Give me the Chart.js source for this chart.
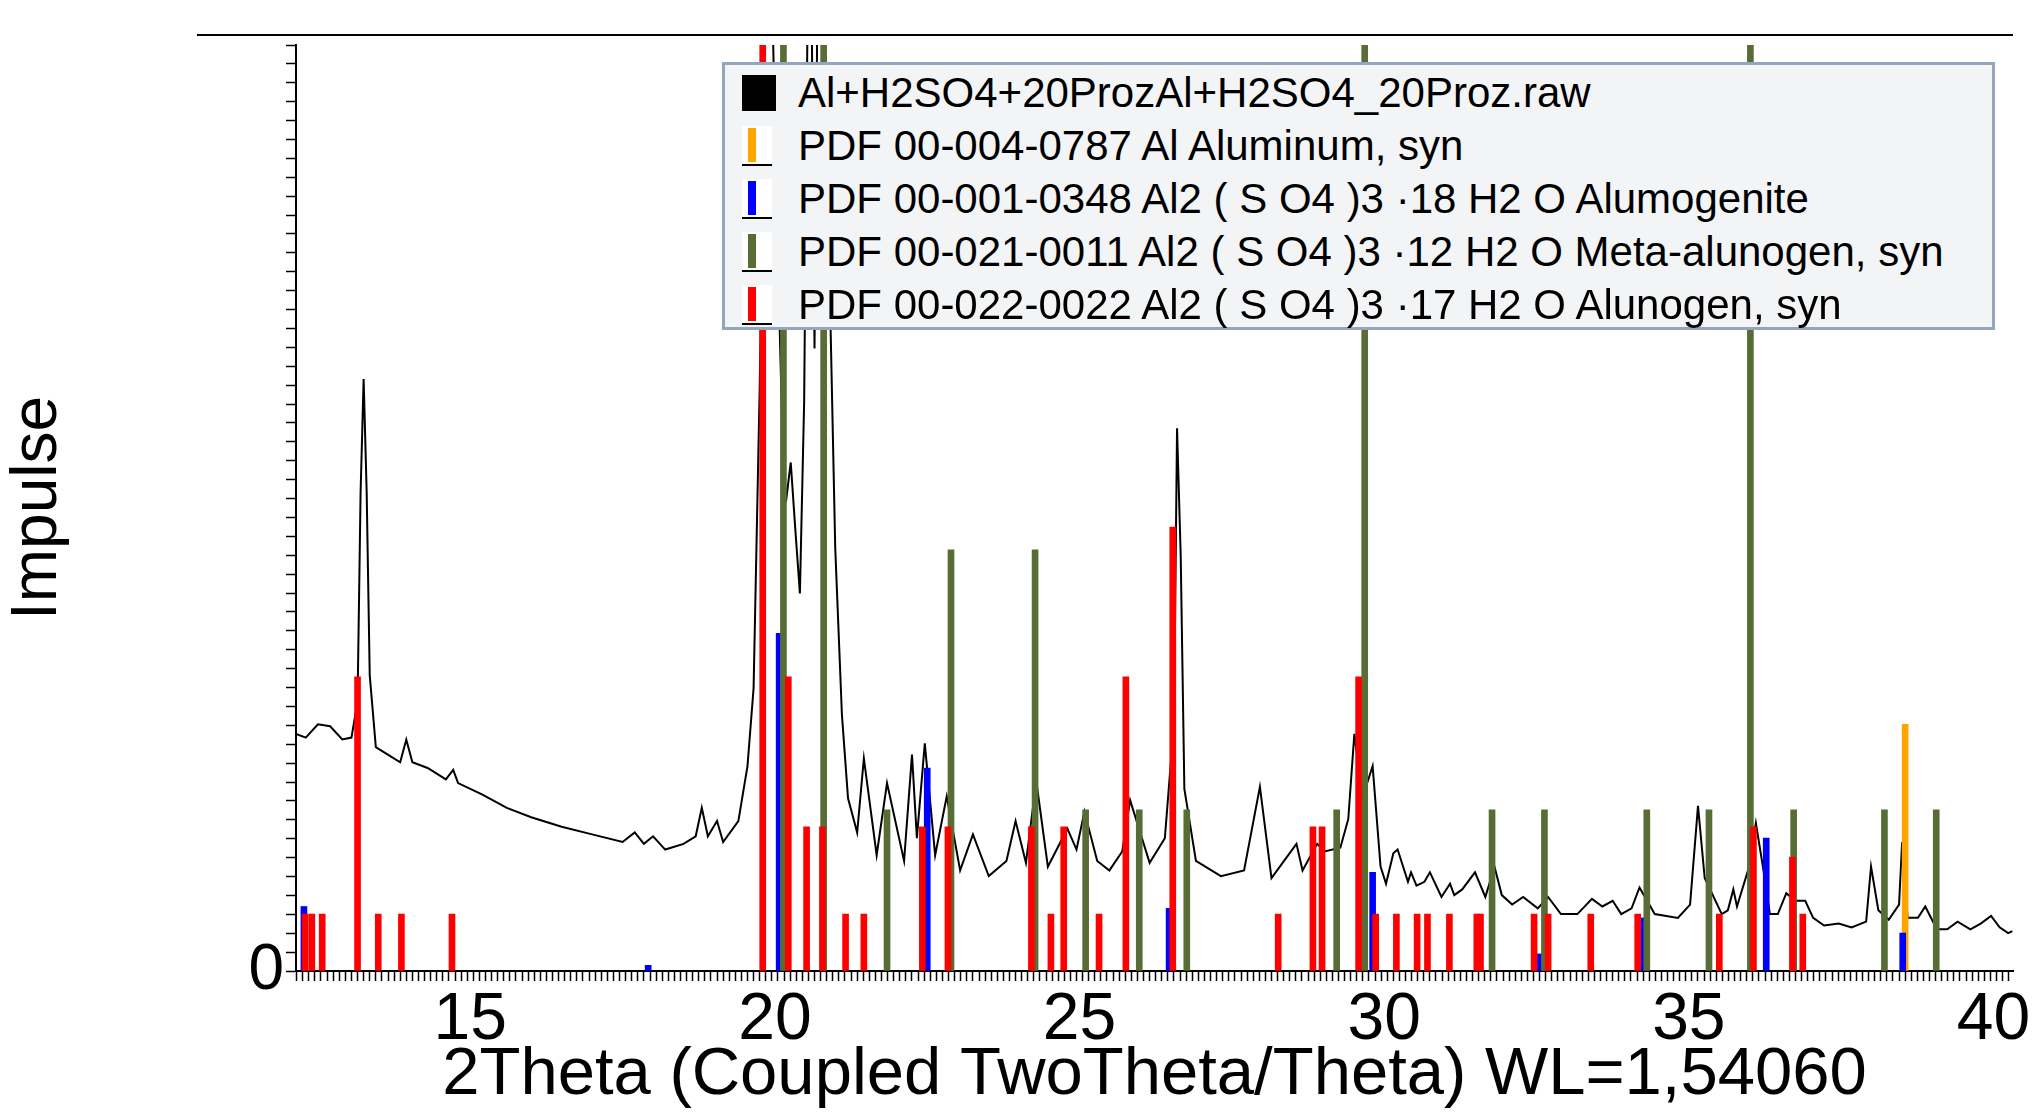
<!DOCTYPE html>
<html>
<head>
<meta charset="utf-8">
<script src="https://cdn.jsdelivr.net/npm/chart.js@4/dist/chart.umd.min.js"></script>
<style>
  body { margin: 0; background: #fff; font-family: "Liberation Sans", Arial, sans-serif; }
  #wrap { position: relative; width: 2036px; height: 1116px; }
  #topLine { position: absolute; left: 197px; top: 34px; width: 1816px; height: 2px; background: #000; }
  #legend { position: absolute; left: 722px; top: 62px; width: 1267px; height: 262px;
    background: #f3f4f6; border: 3px solid #94a6bd; }
  .row { position: absolute; left: 0; height: 52px; display: flex; align-items: center; }
  .sw { position: absolute; left: 17px; width: 30px; height: 40px; background: #fff; }
  .sw i { position: absolute; left: 6px; top: 2px; width: 8px; height: 34px; }
  .sw b { position: absolute; left: 0; bottom: 0; width: 30px; height: 2px; background: #000; }
  .txt { position: absolute; left: 73px; font-size: 42px; white-space: nowrap; color: #000; line-height: 52px; }
</style>
</head>
<body>
<div id="wrap">
  <canvas id="xrdChart" width="2036" height="1116"></canvas>
  <div id="topLine"></div>
  <div id="legend"></div>
</div>
<script>
const rawX = [12.14,12.3,12.5,12.7,12.9,13.05,13.15,13.2,13.25,13.3,13.35,13.45,13.7,13.85,13.95,14.05,14.3,14.6,14.72,14.8,
  15.2,15.6,16.0,16.5,17.0,17.5,17.7,17.85,18.0,18.2,18.5,18.7,18.8,18.9,19.05,19.15,19.4,19.55,19.65,19.75,19.85,19.95,
  20.05,20.12,20.18,20.26,20.33,20.41,20.48,20.54,20.6,20.65,20.7,20.8,20.9,20.99,21.1,21.2,21.35,21.46,21.67,21.84,
  22.12,22.25,22.33,22.46,22.63,22.82,23.04,23.25,23.51,23.8,23.95,24.12,24.29,24.48,24.8,24.95,25.08,25.29,25.49,25.7,
  25.83,26.15,26.4,26.55,26.6,26.66,26.72,26.91,27.32,27.7,27.96,28.15,28.56,28.66,28.9,29.02,29.28,29.41,29.51,29.64,
  29.81,29.94,30.03,30.15,30.22,30.39,30.44,30.53,30.66,30.75,30.94,31.08,31.15,31.28,31.49,31.66,31.81,31.93,32.1,
  32.28,32.52,32.69,32.9,33.17,33.41,33.58,33.75,33.89,34.06,34.19,34.44,34.82,35.02,35.15,35.26,35.54,35.64,35.73,
  35.79,35.98,36.1,36.22,36.33,36.46,36.6,36.74,36.91,37.04,37.22,37.46,37.67,37.91,37.99,38.11,38.28,38.45,38.5,
  38.59,38.76,38.88,39.07,39.24,39.41,39.62,39.79,39.96,40.1,40.24,40.31]
const rawY = [12500,12300,13000,12900,12200,12300,14200,25200,31200,25200,15600,11800,11300,11000,12200,11000,10700,10100,10600,9900,
  9300,8600,8100,7600,7200,6800,7300,6700,7100,6400,6700,7100,8600,7100,7900,6800,7900,10800,14900,30700,52000,52000,
  37500,28600,24700,26800,23500,19900,30000,52000,52000,32800,52000,52000,36000,22300,13500,9100,7300,11200,6100,9900,
  5800,11400,7000,12000,6100,9200,5300,7200,5000,5800,7900,5700,10000,5500,7500,6400,8400,5800,5300,6300,
  9000,5700,7000,13100,28600,21900,9600,5800,5000,5300,9700,4900,6700,5300,6700,6300,6500,8000,12500,9100,
  10800,5500,4600,6200,6400,4700,5200,4500,4700,5200,3900,4600,4000,4300,5200,3900,5500,4000,3500,
  3900,3300,3900,3000,3000,3800,3400,3700,3000,3300,4400,3000,2800,3500,8700,4900,3000,3200,4300,
  3400,5400,7800,5400,3000,3000,4100,3700,3700,2800,2400,2500,2300,2600,5500,3200,2700,3500,6800,
  2800,2800,3400,2200,2200,2600,2200,2500,2900,2300,2000,2100]

// reference patterns (2Theta, intensity)
const aluminumX = [38.55]
const aluminumY = [13000]
const alumogeniteX = [12.27,17.92,20.07,22.5,26.47,29.81,32.56,34.25,36.27,38.51]
const alumogeniteY = [3400,300,17800,10700,3300,5200,900,2800,7000,2000]
const metaAlunogenX = [20.14,20.8,21.84,22.89,24.27,25.1,25.98,26.76,29.22,29.68,31.77,32.63,34.31,35.33,36.01,36.72,38.21,39.06]
const metaAlunogenY = [48800,48800,8500,22200,22200,8500,8500,8500,8500,48800,8500,8500,8500,8500,48800,8500,8500,8500]
const alunogenX = [12.29,12.4,12.57,13.15,13.49,13.87,14.7,19.8,20.22,20.52,20.78,21.16,21.46,22.42,22.84,24.21,24.53,24.74,
  25.32,25.76,26.53,28.26,28.83,28.98,29.58,29.86,30.2,30.54,30.71,31.07,31.52,31.58,32.46,32.69,33.39,34.16,35.5,36.06,36.7,36.87]
const alunogenY = [3000,3000,3000,15500,3000,3000,3000,48800,15500,7600,7600,3000,3000,7600,7600,7600,3000,7600,
  3000,15500,23400,3000,7600,7600,15500,3000,3000,3000,3000,3000,3000,3000,3000,3000,3000,3000,3000,7600,6000,3000]

const legendNames = ['Al+H2SO4+20ProzAl+H2SO4_20Proz.raw','PDF 00-004-0787 Al Aluminum, syn',
  'PDF 00-001-0348 Al2 ( S O4 )3 ·18 H2 O Alumogenite','PDF 00-021-0011 Al2 ( S O4 )3 ·12 H2 O Meta-alunogen, syn',
  'PDF 00-022-0022 Al2 ( S O4 )3 ·17 H2 O Alunogen, syn']
const legendColors = ['#000000','#ffa500','#0000ff','#586d35','#ff0000']

const pts = (xs, ys) => xs.map((x, i) => ({ x: x, y: ys[i] }))

function stick(label, xs, ys, color) {
    return { type: 'bar', label: label, data: pts(xs, ys), backgroundColor: color,
        barThickness: 6, grouped: false, order: 1 }
}

const legend = document.getElementById('legend')
legendNames.forEach((name, i) => {
    const row = document.createElement('div')
    row.className = 'row'
    row.style.top = (2 + i * 53) + 'px'
    let sw
    if (i === 0) {
        sw = '<div class="sw" style="background:#000;top:8px;height:36px;width:34px"></div>'
    } else {
        sw = '<div class="sw" style="top:6px"><i style="background:' + legendColors[i] + '"></i><b></b></div>'
    }
    row.innerHTML = sw + '<span class="txt">' + name + '</span>'
    legend.appendChild(row)
})

const fontFam = '"Liberation Sans", Arial, sans-serif'

const chart = new Chart(document.getElementById('xrdChart'), {
    data: {
        datasets: [
            { type: 'line', label: legendNames[0], data: pts(rawX, rawY), borderColor: '#000',
              borderWidth: 2, pointRadius: 0, tension: 0, order: 2 },
            stick(legendNames[4], alunogenX, alunogenY, '#ff0000'),
            stick(legendNames[3], metaAlunogenX, metaAlunogenY, '#586d35'),
            stick(legendNames[2], alumogeniteX, alumogeniteY, '#0000ff'),
            stick(legendNames[1], aluminumX, aluminumY, '#ffa500')
        ]
    },
    options: {
        responsive: false,
        animation: false,
        layout: { padding: { top: 45, right: 23, left: 0, bottom: 0 } },
        plugins: { legend: { display: false }, tooltip: { enabled: false } },
        scales: {
            x: {
                type: 'linear', min: 12.14, max: 40.32, offset: false,
                afterFit: s => { s.height = 145 },
                border: { color: '#000', width: 2 },
                grid: { drawOnChartArea: false, tickLength: 10, color: '#000', tickWidth: 1.5 },
                ticks: {
                    stepSize: 0.1, autoSkip: false, maxRotation: 0, includeBounds: false,
                    color: '#000', font: { family: fontFam, size: 66 }, padding: 0,
                    callback: v => (Math.round(v * 10) % 50 === 0 ? String(Math.round(v)) : '')
                },
                title: { display: true, text: '2Theta (Coupled TwoTheta/Theta) WL=1,54060',
                    color: '#000', font: { family: fontFam, size: 67 }, padding: 0 }
            },
            y: {
                min: 0, max: 48800,
                afterFit: s => { s.width = 296 },
                border: { color: '#000', width: 2 },
                grid: { drawOnChartArea: false, tickLength: 10, color: '#000', tickWidth: 1.5 },
                ticks: {
                    stepSize: 1000, autoSkip: false, includeBounds: false,
                    color: '#000', font: { family: fontFam, size: 64 }, padding: 2,
                    callback: v => (Math.round(v) % 10000 === 0 ? Math.round(v).toLocaleString('en-US') : '')
                },
                title: { display: true, text: 'Impulse', color: '#000',
                    font: { family: fontFam, size: 64 }, padding: 0 }
            }
        }
    }
})
</script>
</body>
</html>
